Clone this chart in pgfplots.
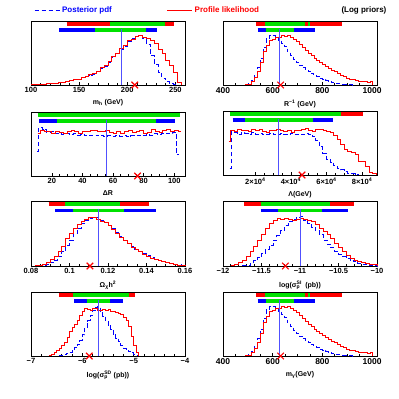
\documentclass[border=0pt]{standalone}
\usepackage{fontspec}
\setmainfont{Liberation Sans}
\usepackage{pgfplots}
\usepackage{pgfplotstable}
\pgfplotsset{compat=1.18}
\definecolor{bgreen}{RGB}{0,225,0}
\definecolor{lblue}{RGB}{80,80,255}

% R^-1 and m_gamma share the same shape
\pgfplotstableread{
x y
490 0.005
502 0.015
514 0.05
526 0.12
538 0.22
550 0.35
562 0.52
574 0.62
586 0.69
598 0.72
610 0.75
622 0.74
634 0.77
646 0.765
658 0.77
670 0.75
682 0.72
694 0.68
706 0.63
718 0.58
730 0.54
742 0.49
754 0.46
766 0.41
778 0.38
790 0.35
802 0.32
814 0.29
826 0.26
838 0.23
850 0.21
862 0.18
874 0.15
886 0.13
898 0.11
910 0.09
922 0.08
934 0.07
946 0.05
958 0.06
970 0.05
982 0.04
994 0.06
1000 0
}\rinvred
\pgfplotstableread{
x y
490 0.003
502 0.02
514 0.07
526 0.15
538 0.28
550 0.42
562 0.58
574 0.72
586 0.77
598 0.78
610 0.76
622 0.70
634 0.65
646 0.60
658 0.52
670 0.46
682 0.40
694 0.35
706 0.31
718 0.27
730 0.24
742 0.21
754 0.18
766 0.15
778 0.13
790 0.10
802 0.08
814 0.065
826 0.05
838 0.035
850 0.025
862 0.018
874 0.012
886 0.008
898 0.005
910 0.003
922 0
}\rinvblue

\pgfplotsset{
  panel/.style={
    scale only axis, width=154pt, height=64pt, anchor=south west,
    ymin=0, ymax=1, ytick=\empty, clip=false,
    xtick pos=left,
    axis line style={line width=0.9pt},
    every tick/.style={black, line width=0.6pt},
    major tick length=3pt, minor tick length=1.6pt,
    xticklabel style={font=\bfseries\fontsize{7.5}{8}\selectfont, yshift=1pt},
    xlabel style={font=\bfseries\fontsize{7}{8}\selectfont},
  },
  hred/.style={red, line width=0.8pt, const plot},
  hblue/.style={blue, line width=0.9pt, const plot, dash pattern=on 4.5pt off 2.5pt},
  vline/.style={lblue, line width=0.6pt, forget plot},
  bfit/.style={red, only marks, mark=x, mark size=4.6pt, mark options={line width=1.2pt}, forget plot},
  toprow/.style={line width=4.2pt, forget plot},
  lowrow/.style={line width=3.8pt, forget plot},
}

\begin{document}
\begin{tikzpicture}
\useasboundingbox (0,0) rectangle (399pt,399pt);

% ---------- m_h ----------
\begin{axis}[panel, at={(31pt,314pt)}, xmin=100, xmax=260,
  xtick={100,150,200,250}, xticklabels={100,150,200,250}, minor tick num=4,
  xlabel={m\textsubscript{h} (GeV)},
  legend style={at={(axis description cs:0.0,1.17)}, anchor=west, draw=none, fill=none,
    legend columns=2, font=\bfseries\fontsize{8}{9}\selectfont,
    /tikz/every even column/.append style={column sep=53pt}},
  legend image code/.code={\draw[#1] (0pt,0pt) -- (25pt,0pt);}]
\addplot[hblue] coordinates {(100,0.004) (104,0.007) (108,0.010) (112,0.013) (116,0.018) (120,0.025) (124,0.030) (128,0.038) (132,0.046) (136,0.055) (140,0.066) (144,0.080) (148,0.092) (152,0.115) (156,0.135) (160,0.155) (164,0.170) (168,0.205) (172,0.260) (176,0.295) (180,0.360) (184,0.430) (188,0.490) (192,0.560) (196,0.610) (200,0.680) (204,0.720) (208,0.760) (212,0.770) (216,0.720) (220,0.640) (224,0.460) (228,0.320) (232,0.200) (236,0.110) (240,0.050) (244,0.020) (248,0.005) (252,0)};
\addlegendentry{\textcolor{blue}{Posterior pdf}}
\addplot[hred] coordinates {(100,0.005) (104,0.008) (108,0.012) (112,0.014) (116,0.020) (120,0.028) (124,0.032) (128,0.040) (132,0.048) (136,0.058) (140,0.070) (144,0.085) (148,0.095) (152,0.120) (156,0.140) (160,0.160) (164,0.175) (168,0.210) (172,0.270) (176,0.300) (180,0.370) (184,0.440) (188,0.490) (192,0.570) (196,0.620) (200,0.690) (204,0.720) (208,0.760) (212,0.775) (216,0.745) (220,0.730) (224,0.700) (228,0.650) (232,0.560) (236,0.500) (240,0.390) (244,0.300) (248,0.200) (252,0.040) (256,0)};
\addlegendentry{\textcolor{red}{Profile likelihood}}
\addplot[toprow, red] coordinates {(137,0.953) (249,0.953)};
\addplot[toprow, bgreen] coordinates {(182.4,0.953) (238.8,0.953)};
\addplot[lowrow, blue] coordinates {(129,0.855) (231,0.855)};
\addplot[lowrow, bgreen] coordinates {(166.8,0.855) (219,0.855)};
\addplot[vline] coordinates {(193.6,0) (193.6,0.88)};
\addplot[bfit] coordinates {(207.8,0)};
\end{axis}

% ---------- R^-1 ----------
\begin{axis}[panel, at={(223pt,314pt)}, xmin=400, xmax=1020,
  xtick={400,600,800,1000}, xticklabels={400,600,800,1000}, minor tick num=3,
  xticklabel style={font=\bfseries\fontsize{8.5}{9}\selectfont},
  xlabel={R\textsuperscript{−1} (GeV)}]
\addplot[hblue] table {\rinvblue};
\addplot[hred] table {\rinvred};
\addplot[toprow, red] coordinates {(533,0.953) (878,0.953)};
\addplot[toprow, bgreen] coordinates {(571,0.953) (732,0.953)};
\addplot[toprow, bgreen] coordinates {(742,0.953) (752,0.953)};
\addplot[lowrow, blue] coordinates {(539,0.855) (772,0.855)};
\addplot[lowrow, bgreen] coordinates {(575,0.855) (685,0.855)};
\addplot[vline] coordinates {(628,0) (628,0.88)};
\addplot[bfit] coordinates {(632,0)};
\node[anchor=east, font=\bfseries\fontsize{8}{9}\selectfont] at (axis description cs:1.084,1.17) {(Log priors)};
\end{axis}

% ---------- Delta R ----------
\begin{axis}[panel, at={(31pt,223pt)}, xmin=6.4, xmax=107,
  xtick={20,40,60,80,100}, xticklabels={20,40,60,80,100}, minor tick num=3,
  xlabel={ΔR}]
\addplot[hblue] coordinates {(10.5,0.38) (11.5,0.76) (14,0.72) (16.5,0.68) (19,0.69) (21.5,0.66) (24,0.67) (26.5,0.65) (29,0.66) (31.5,0.65) (34,0.66) (36.5,0.64) (39,0.65) (41.5,0.64) (44,0.63) (46.5,0.64) (49,0.63) (51.5,0.64) (54,0.62) (56.5,0.63) (59,0.62) (61.5,0.63) (64,0.62) (66.5,0.63) (69,0.62) (71.5,0.63) (74,0.64) (76.5,0.63) (79,0.64) (81.5,0.65) (84,0.64) (86.5,0.66) (89,0.65) (91.5,0.66) (94,0.67) (96.5,0.66) (99,0.68) (101.5,0.33) (103,0.33)};
\addplot[hred] coordinates {(10.8,0.66) (12.5,0.71) (15,0.69) (17.5,0.70) (20,0.67) (22.5,0.70) (25,0.68) (27.5,0.66) (30,0.70) (32.5,0.72) (35,0.69) (37.5,0.67) (40,0.69) (42.5,0.70) (45,0.72) (47.5,0.71) (50,0.70) (52.5,0.69) (55,0.71) (57.5,0.68) (60,0.66) (62.5,0.69) (65,0.67) (67.5,0.70) (70,0.72) (72.5,0.68) (75,0.70) (77.5,0.71) (80,0.66) (82.5,0.68) (85,0.73) (87.5,0.70) (90,0.68) (92.5,0.71) (95,0.73) (97.5,0.70) (100,0.72) (102.5,0.70) (104.7,0.70)};
\addplot[toprow, bgreen] coordinates {(10.8,0.953) (103.6,0.953)};
\addplot[lowrow, blue] coordinates {(11.9,0.855) (100.3,0.855)};
\addplot[lowrow, bgreen] coordinates {(23.3,0.855) (88.2,0.855)};
\addplot[vline] coordinates {(55.6,0) (55.6,0.88)};
\addplot[bfit] coordinates {(76,0)};
\end{axis}

% ---------- Lambda ----------
\begin{axis}[panel, at={(223pt,224pt)}, xmin=1800, xmax=88400,
  xtick={20000,40000,60000,80000},
  xticklabels={2×10\textsuperscript{4},4×10\textsuperscript{4},6×10\textsuperscript{4},8×10\textsuperscript{4}},
  minor tick num=3, scaled x ticks=false,
  xlabel={Λ(GeV)}]
\addplot[hblue] coordinates {(5500,0.10) (6500,0.68) (8000,0.66) (10000,0.64) (12000,0.66) (14000,0.65) (16000,0.64) (18000,0.66) (20000,0.64) (22000,0.65) (24000,0.63) (26000,0.64) (28000,0.65) (30000,0.64) (32000,0.63) (34000,0.65) (36000,0.64) (38000,0.63) (40000,0.65) (42000,0.64) (44000,0.63) (46000,0.64) (48000,0.65) (50000,0.64) (52000,0.60) (54000,0.54) (56000,0.44) (58000,0.34) (60000,0.25) (62000,0.20) (64000,0.15) (66000,0.10) (68000,0.08) (70000,0.05) (72000,0.03) (74000,0.02) (76000,0.01) (78000,0)};
\addplot[hred] coordinates {(5000,0.53) (6000,0.70) (8000,0.68) (10000,0.71) (12000,0.69) (14000,0.70) (16000,0.68) (18000,0.71) (20000,0.70) (22000,0.72) (24000,0.68) (26000,0.67) (28000,0.70) (30000,0.69) (32000,0.71) (34000,0.70) (36000,0.68) (38000,0.69) (40000,0.67) (42000,0.70) (44000,0.69) (46000,0.71) (48000,0.73) (50000,0.70) (52000,0.68) (54000,0.71) (56000,0.72) (58000,0.70) (60000,0.68) (62000,0.66) (64000,0.62) (66000,0.55) (68000,0.48) (70000,0.40) (72000,0.37) (74000,0.35) (76000,0.32) (78000,0.22) (80000,0.21) (82000,0.13) (84000,0.04) (86000,0.02) (88000,0)};
\addplot[toprow, bgreen] coordinates {(5940,0.953) (68190,0.953)};
\addplot[toprow, red] coordinates {(68190,0.953) (80560,0.953)};
\addplot[lowrow, blue] coordinates {(7250,0.855) (63500,0.855)};
\addplot[lowrow, bgreen] coordinates {(14000,0.855) (52250,0.855)};
\addplot[vline] coordinates {(33125,0) (33125,0.88)};
\addplot[bfit] coordinates {(46250,0)};
\end{axis}

% ---------- Omega h^2 ----------
\begin{axis}[panel, at={(31pt,133pt)}, height=65pt, xmin=0.08, xmax=0.16,
  xtick={0.08,0.1,0.12,0.14,0.16}, xticklabels={0.08,0.1,0.12,0.14,0.16}, minor tick num=3,
  xlabel={Ω\textsubscript{χ}h\textsuperscript{2}}]
\addplot[hblue] coordinates {(0.084,0.005) (0.086,0.015) (0.088,0.03) (0.090,0.06) (0.092,0.09) (0.094,0.15) (0.096,0.22) (0.098,0.32) (0.100,0.40) (0.102,0.50) (0.104,0.58) (0.106,0.65) (0.108,0.70) (0.110,0.73) (0.112,0.75) (0.114,0.74) (0.116,0.70) (0.118,0.67) (0.120,0.63) (0.122,0.57) (0.124,0.51) (0.126,0.45) (0.128,0.40) (0.130,0.35) (0.132,0.30) (0.134,0.26) (0.136,0.22) (0.138,0.19) (0.140,0.16) (0.142,0.13) (0.144,0.105) (0.146,0.085) (0.148,0.07) (0.150,0.05) (0.152,0.04) (0.154,0.03) (0.156,0.02) (0.158,0.01) (0.160,0)};
\addplot[hred] coordinates {(0.082,0.005) (0.084,0.015) (0.086,0.03) (0.088,0.06) (0.090,0.10) (0.092,0.15) (0.094,0.22) (0.096,0.30) (0.098,0.42) (0.100,0.50) (0.102,0.58) (0.104,0.64) (0.106,0.69) (0.108,0.72) (0.110,0.74) (0.112,0.75) (0.114,0.72) (0.116,0.68) (0.118,0.67) (0.120,0.62) (0.122,0.56) (0.124,0.50) (0.126,0.44) (0.128,0.39) (0.130,0.34) (0.132,0.29) (0.134,0.25) (0.136,0.22) (0.138,0.18) (0.140,0.15) (0.142,0.12) (0.144,0.10) (0.146,0.08) (0.148,0.065) (0.150,0.05) (0.152,0.035) (0.154,0.025) (0.156,0.015) (0.158,0.008) (0.160,0)};
\addplot[toprow, red] coordinates {(0.0891,0.953) (0.1411,0.953)};
\addplot[toprow, bgreen] coordinates {(0.0977,0.953) (0.1261,0.953)};
\addplot[lowrow, blue] coordinates {(0.0926,0.855) (0.145,0.855)};
\addplot[lowrow, bgreen] coordinates {(0.102,0.855) (0.1282,0.855)};
\addplot[vline] coordinates {(0.1151,0) (0.1151,0.88)};
\addplot[bfit] coordinates {(0.1106,0)};
\end{axis}

% ---------- log sigma SI ----------
\begin{axis}[panel, at={(223pt,133pt)}, height=65pt, xmin=-12, xmax=-10,
  xtick={-12,-11.5,-11,-10.5,-10}, xticklabels={−12,−11.5,−11,−10.5,−10}, minor tick num=4,
  xlabel={log(σ\rlap{\textsuperscript{SI}}\textsubscript{p}\hspace{0.45em} (pb))}]
\addplot[hblue] coordinates {(-11.75,0.005) (-11.70,0.015) (-11.65,0.04) (-11.60,0.08) (-11.55,0.13) (-11.50,0.19) (-11.45,0.25) (-11.40,0.32) (-11.35,0.40) (-11.30,0.47) (-11.25,0.55) (-11.20,0.63) (-11.15,0.68) (-11.10,0.71) (-11.05,0.74) (-11.00,0.76) (-10.95,0.70) (-10.90,0.65) (-10.85,0.59) (-10.80,0.54) (-10.75,0.48) (-10.70,0.40) (-10.65,0.33) (-10.60,0.28) (-10.55,0.23) (-10.50,0.18) (-10.45,0.14) (-10.40,0.12) (-10.35,0.09) (-10.30,0.07) (-10.25,0.045) (-10.20,0.03) (-10.15,0.02) (-10.10,0.012) (-10.05,0.006) (-10.00,0)};
\addplot[hred] coordinates {(-11.90,0.005) (-11.85,0.02) (-11.80,0.05) (-11.75,0.09) (-11.70,0.15) (-11.65,0.22) (-11.60,0.30) (-11.55,0.40) (-11.50,0.48) (-11.45,0.58) (-11.40,0.66) (-11.35,0.70) (-11.30,0.73) (-11.25,0.72) (-11.20,0.73) (-11.15,0.71) (-11.10,0.70) (-11.05,0.72) (-11.00,0.73) (-10.95,0.71) (-10.90,0.70) (-10.85,0.68) (-10.80,0.64) (-10.75,0.58) (-10.70,0.53) (-10.65,0.48) (-10.60,0.42) (-10.55,0.35) (-10.50,0.28) (-10.45,0.22) (-10.40,0.17) (-10.35,0.12) (-10.30,0.09) (-10.25,0.07) (-10.20,0.06) (-10.15,0.045) (-10.10,0.03) (-10.05,0.02) (-10.00,0)};
\addplot[toprow, red] coordinates {(-11.726,0.953) (-10.30,0.953)};
\addplot[toprow, bgreen] coordinates {(-11.51,0.953) (-10.61,0.953)};
\addplot[lowrow, blue] coordinates {(-11.51,0.855) (-10.38,0.855)};
\addplot[lowrow, bgreen] coordinates {(-11.285,0.855) (-10.715,0.855)};
\addplot[vline] coordinates {(-11.0,0) (-11.0,0.88)};
\addplot[bfit] coordinates {(-11.19,0)};
\end{axis}

% ---------- log sigma SD ----------
\begin{axis}[panel, at={(31pt,43pt)}, xmin=-7, xmax=-4,
  xtick={-7,-6,-5,-4}, xticklabels={−7,−6,−5,−4}, minor tick num=4,
  xlabel={log(σ\rlap{\textsuperscript{SD}}\textsubscript{p}\hspace{0.55em} (pb))}]
\addplot[hblue] coordinates {(-6.45,0.005) (-6.40,0.012) (-6.35,0.025) (-6.30,0.04) (-6.25,0.06) (-6.20,0.09) (-6.15,0.13) (-6.10,0.18) (-6.05,0.24) (-6.00,0.33) (-5.95,0.45) (-5.90,0.55) (-5.85,0.63) (-5.80,0.71) (-5.75,0.76) (-5.70,0.77) (-5.65,0.70) (-5.60,0.62) (-5.55,0.55) (-5.50,0.48) (-5.45,0.41) (-5.40,0.34) (-5.35,0.28) (-5.30,0.23) (-5.25,0.17) (-5.20,0.12) (-5.15,0.09) (-5.10,0.07) (-5.05,0.05) (-5.00,0.03) (-4.95,0.01) (-4.90,0)};
\addplot[hred] coordinates {(-6.65,0.01) (-6.60,0.025) (-6.55,0.05) (-6.50,0.08) (-6.45,0.12) (-6.40,0.16) (-6.35,0.22) (-6.30,0.29) (-6.25,0.38) (-6.20,0.44) (-6.15,0.50) (-6.10,0.55) (-6.05,0.63) (-6.00,0.69) (-5.95,0.74) (-5.90,0.73) (-5.85,0.71) (-5.80,0.74) (-5.75,0.75) (-5.70,0.72) (-5.65,0.71) (-5.60,0.73) (-5.55,0.72) (-5.50,0.73) (-5.45,0.70) (-5.40,0.69) (-5.35,0.68) (-5.30,0.66) (-5.25,0.65) (-5.20,0.61) (-5.15,0.56) (-5.10,0.46) (-5.05,0.30) (-5.00,0.17) (-4.95,0.05) (-4.90,0)};
\addplot[toprow, red] coordinates {(-6.445,0.953) (-4.968,0.953)};
\addplot[toprow, bgreen] coordinates {(-6.187,0.953) (-5.097,0.953)};
\addplot[lowrow, blue] coordinates {(-6.155,0.855) (-5.206,0.855)};
\addplot[lowrow, bgreen] coordinates {(-5.916,0.855) (-5.452,0.855)};
\addplot[vline] coordinates {(-5.69,0) (-5.69,0.88)};
\addplot[bfit] coordinates {(-5.865,0)};
\end{axis}

% ---------- m_gamma ----------
\begin{axis}[panel, at={(223pt,43pt)}, xmin=400, xmax=1020,
  xtick={400,600,800,1000}, xticklabels={400,600,800,1000}, minor tick num=3,
  xticklabel style={font=\bfseries\fontsize{8.5}{9}\selectfont},
  xlabel={m\textsubscript{γ}(GeV)}]
\addplot[hblue] table {\rinvblue};
\addplot[hred] table {\rinvred};
\addplot[toprow, red] coordinates {(533,0.953) (878,0.953)};
\addplot[toprow, bgreen] coordinates {(571,0.953) (732,0.953)};
\addplot[toprow, bgreen] coordinates {(742,0.953) (752,0.953)};
\addplot[lowrow, blue] coordinates {(539,0.855) (772,0.855)};
\addplot[lowrow, bgreen] coordinates {(575,0.855) (685,0.855)};
\addplot[vline] coordinates {(628,0) (628,0.88)};
\addplot[bfit] coordinates {(632,0)};
\end{axis}
\end{tikzpicture}
\end{document}
